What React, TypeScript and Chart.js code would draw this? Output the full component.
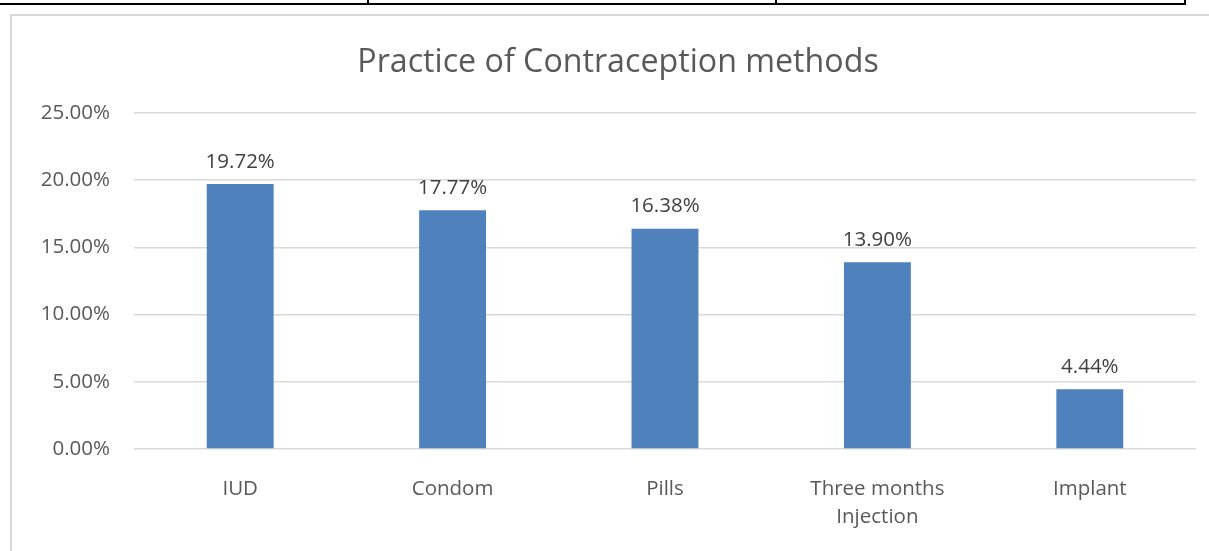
import React, { useEffect, useRef } from "react";
import { Chart, registerables } from "chart.js";

Chart.register(...registerables);

const categories: (string | string[])[] = ["IUD", "Condom", "Pills", ["Three months", "Injection"], "Implant"];
const values: number[] = [0.1972, 0.1777, 0.1638, 0.139, 0.0444];
const valueLabels: string[] = ["19.72%", "17.77%", "16.38%", "13.90%", "4.44%"];
const titleText = "Practice of Contraception methods";

const FONT = "'Open Sans', 'DejaVu Sans', sans-serif";

const dataLabelPlugin = {
  id: "dataLabels",
  afterDatasetsDraw(chart: any) {
    const ctx = chart.ctx;
    const meta = chart.getDatasetMeta(0);
    ctx.save();
    ctx.font = `20.5px ${FONT}`;
    ctx.fillStyle = "#404040";
    ctx.textAlign = "center";
    ctx.textBaseline = "bottom";
    meta.data.forEach((el: any, i: number) => {
      ctx.fillText(valueLabels[i], el.x, el.y - 12);
    });
    ctx.restore();
  },
};

const titlePlugin = {
  id: "frameTitle",
  afterDraw(chart: any) {
    const ctx = chart.ctx;
    ctx.save();
    ctx.font = `32.2px ${FONT}`;
    ctx.fillStyle = "#595959";
    ctx.textAlign = "center";
    ctx.textBaseline = "middle";
    ctx.fillText(titleText, (chart.width + 27) / 2, 63);
    ctx.restore();
  },
};

export default function App() {
  const ref = useRef<HTMLCanvasElement | null>(null);
  useEffect(() => {
    if (!ref.current) return;
    const chart = new Chart(ref.current, {
      type: "bar",
      data: {
        labels: categories,
        datasets: [
          {
            data: values,
            backgroundColor: "#4f81bd",
            borderWidth: 0,
            categoryPercentage: 1,
            barPercentage: 0.315,
          },
        ],
      },
      options: {
        responsive: false,
        animation: false,
        layout: { padding: { top: 113, right: 13, bottom: 0, left: 0 } },
        plugins: {
          legend: { display: false },
          tooltip: { enabled: false },
          title: { display: false },
        },
        scales: {
          x: {
            grid: { display: false, drawTicks: false },
            border: { display: false },
            ticks: {
              color: "#595959",
              font: { family: FONT, size: 20.5, lineHeight: 1.38 },
              padding: 26,
              maxRotation: 0,
              autoSkip: false,
            },
            afterFit: (s: any) => {
              s.height = 102;
            },
          },
          y: {
            min: 0,
            max: 0.25,
            grid: { color: "#d9d9d9", lineWidth: 1.5, drawTicks: false },
            border: { display: false },
            ticks: {
              stepSize: 0.05,
              color: "#595959",
              font: { family: FONT, size: 20.5 },
              padding: 24,
              callback: (v: any) => (Number(v) * 100).toFixed(2) + "%",
            },
            afterFit: (s: any) => {
              s.width = 134;
            },
          },
        },
      },
      plugins: [dataLabelPlugin, titlePlugin],
    });
    return () => chart.destroy();
  }, []);

  return (
    <div style={{ position: "fixed", left: 0, top: 0, width: 1209, height: 551, background: "#fff", overflow: "hidden" }}>
      <div style={{ position: "absolute", left: 0, top: 3, width: 1186, height: 2, background: "#000" }} />
      <div style={{ position: "absolute", left: 367, top: 0, width: 2, height: 4, background: "#000" }} />
      <div style={{ position: "absolute", left: 775, top: 0, width: 2, height: 4, background: "#000" }} />
      <div style={{ position: "absolute", left: 1184, top: 0, width: 2, height: 5, background: "#000" }} />
      <div
        style={{
          position: "absolute",
          left: 10,
          top: 14,
          width: 1240,
          height: 600,
          borderLeft: "2px solid #d9d9d9",
          borderTop: "2px solid #d9d9d9",
          boxSizing: "border-box",
        }}
      />
      <canvas ref={ref} width={1209} height={551} style={{ position: "absolute", left: 0, top: 0, width: 1209, height: 551 }} />
    </div>
  );
}
